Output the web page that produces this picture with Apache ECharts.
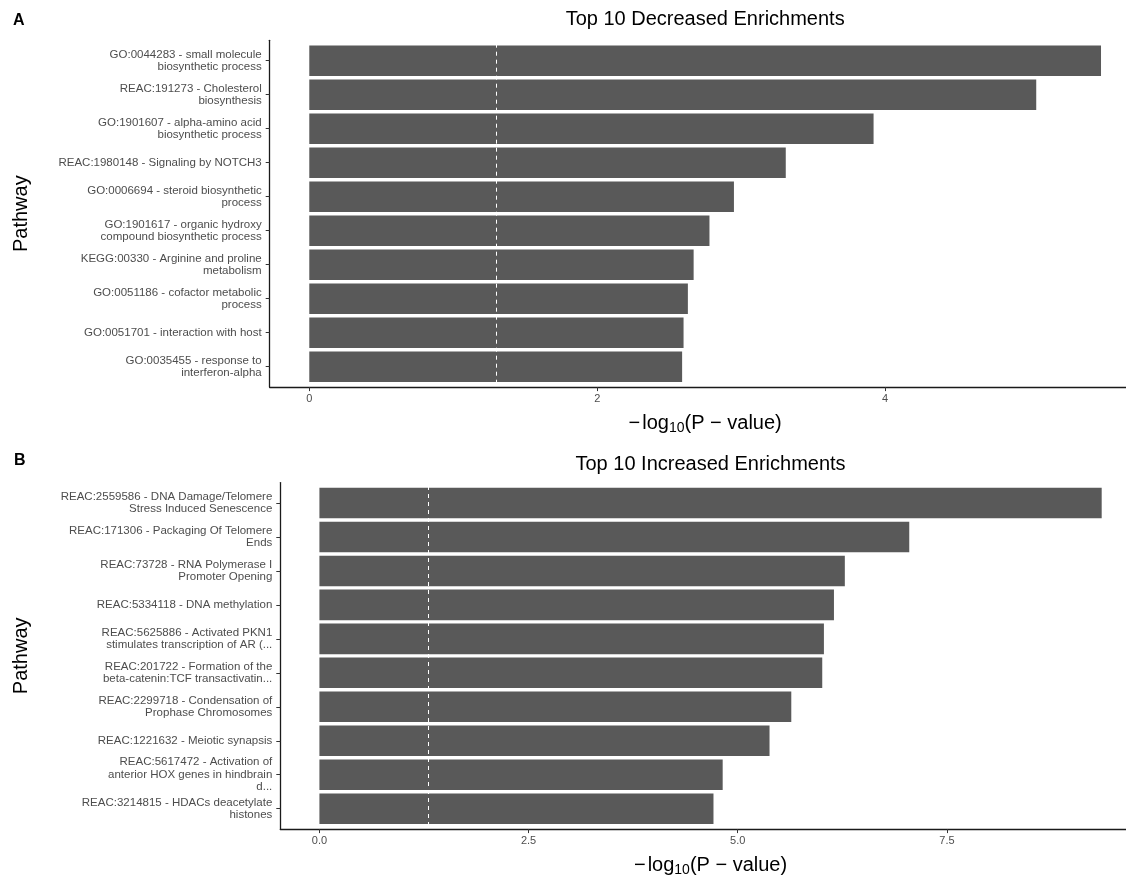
<!DOCTYPE html>
<html>
<head>
<meta charset="utf-8">
<title>Top 10 enrichments</title>
<script src="https://cdn.jsdelivr.net/npm/echarts@6/dist/echarts.min.js"></script>
<style>
  html, body { margin: 0; padding: 0; background: #ffffff; }
  #chart { width: 1126px; height: 875px; }
</style>
</head>
<body>
<div id="chart"></div>
<script>
// ---- data -------------------------------------------------------------
const decLabels = [
  'GO:0044283 - small molecule\nbiosynthetic process',
  'REAC:191273 - Cholesterol\nbiosynthesis',
  'GO:1901607 - alpha-amino acid\nbiosynthetic process',
  'REAC:1980148 - Signaling by NOTCH3',
  'GO:0006694 - steroid biosynthetic\nprocess',
  'GO:1901617 - organic hydroxy\ncompound biosynthetic process',
  'KEGG:00330 - Arginine and proline\nmetabolism',
  'GO:0051186 - cofactor metabolic\nprocess',
  'GO:0051701 - interaction with host',
  'GO:0035455 - response to\ninterferon-alpha'
];
const decValues = [5.50, 5.05, 3.92, 3.31, 2.95, 2.78, 2.67, 2.63, 2.60, 2.59];
const decTicks = [0, 2, 4];

const incLabels = [
  'REAC:2559586 - DNA Damage/Telomere\nStress Induced Senescence',
  'REAC:171306 - Packaging Of Telomere\nEnds',
  'REAC:73728 - RNA Polymerase I\nPromoter Opening',
  'REAC:5334118 - DNA methylation',
  'REAC:5625886 - Activated PKN1\nstimulates transcription of AR (...',
  'REAC:201722 - Formation of the\nbeta-catenin:TCF transactivatin...',
  'REAC:2299718 - Condensation of\nProphase Chromosomes',
  'REAC:1221632 - Meiotic synapsis',
  'REAC:5617472 - Activation of\nanterior HOX genes in hindbrain\nd...',
  'REAC:3214815 - HDACs deacetylate\nhistones'
];
const incValues = [9.35, 7.05, 6.28, 6.15, 6.03, 6.01, 5.64, 5.38, 4.82, 4.71];
const incTicks = [0, 2.5, 5, 7.5];

// significance threshold: -log10(0.05)
const pCutoff = -Math.log10(0.05);

// ---- styling ----------------------------------------------------------
const FONT = '"Liberation Sans", Arial, Helvetica, sans-serif';
const BAR = '#595959';
const LABEL = '#4d4d4d';
const AXIS = '#1a1a1a';

const panels = [
  {
    letter: 'A', letterLeft: 13, letterTop: 13,
    title: 'Top 10 Decreased Enrichments', titleGap: 11,
    labels: decLabels, values: decValues, ticks: decTicks,
    fmt: v => String(v),
    left: 269.7, width: 870.9, nameGap: 238,
    frameTop: 40.3, frameH: 346.8, dataTop: 43.7, dataH: 340
  },
  {
    letter: 'B', letterLeft: 14, letterTop: 453,
    title: 'Top 10 Increased Enrichments', titleGap: 8,
    labels: incLabels, values: incValues, ticks: incTicks,
    fmt: v => v.toFixed(1),
    left: 280.3, width: 860.5, nameGap: 248.5,
    frameTop: 482.6, frameH: 346.5, dataTop: 486, dataH: 339.7
  }
];

const xName = '{m|\u2212}{t|log}{s|10}{t|(P \u2212 value)}';
const xNameStyle = {
  color: '#000', fontFamily: FONT, fontSize: 20, lineHeight: 24,
  rich: {
    m: { fontSize: 20, lineHeight: 24, fontFamily: FONT, color: '#000', padding: [0, 2, 0, 0] },
    t: { fontSize: 20, lineHeight: 24, fontFamily: FONT, color: '#000' },
    s: { fontSize: 14, lineHeight: 14, fontFamily: FONT, color: '#000', verticalAlign: 'bottom' }
  }
};

const option = {
  animation: false,
  backgroundColor: '#ffffff',
  title: [],
  grid: [],
  xAxis: [],
  yAxis: [],
  series: []
};

panels.forEach((p, i) => {
  const dataGrid = i * 2;
  const frameGrid = i * 2 + 1;
  const vmax = Math.max(...p.values);
  const xmin = -0.05 * vmax;
  const xmax = 1.05 * vmax;
  const frameBottom = p.frameTop + p.frameH;
  const dataBottom = p.dataTop + p.dataH;

  option.title.push({
    text: p.letter, left: p.letterLeft, top: p.letterTop, padding: 0,
    textStyle: { fontFamily: FONT, fontSize: 16, fontWeight: 'bold', color: '#000', lineHeight: 16 }
  });

  // bars live in the inner grid, axis lines in the outer frame grid;
  // the panel runs past the right edge of the canvas
  option.grid.push({ left: p.left, width: p.width, top: p.dataTop, height: p.dataH, outerBoundsMode: 'none' });
  option.grid.push({ left: p.left, width: p.width, top: p.frameTop, height: p.frameH, outerBoundsMode: 'none' });

  // value axis (ticks + labels), dropped to the frame edge
  option.xAxis.push({
    gridIndex: dataGrid, type: 'value', min: xmin, max: xmax,
    offset: frameBottom - dataBottom,
    axisLine: { show: false, onZero: false },
    splitLine: { show: false },
    axisTick: { show: true, length: 4, customValues: p.ticks, lineStyle: { color: '#333', width: 1 } },
    axisLabel: { customValues: p.ticks, formatter: p.fmt, color: LABEL, fontFamily: FONT, fontSize: 11, margin: 6 },
    name: xName, nameLocation: 'middle', nameGap: 24, nameTextStyle: xNameStyle
  });
  // frame: bottom axis line
  option.xAxis.push({
    gridIndex: frameGrid, type: 'value', min: 0, max: 1,
    axisLine: { show: true, onZero: false, lineStyle: { color: AXIS, width: 1.3 } },
    axisTick: { show: false }, axisLabel: { show: false }, splitLine: { show: false }
  });
  // frame: top axis carrying the panel title
  option.xAxis.push({
    gridIndex: frameGrid, type: 'value', min: 0, max: 1, position: 'top',
    axisLine: { show: false }, axisTick: { show: false }, axisLabel: { show: false }, splitLine: { show: false },
    name: p.title, nameLocation: 'middle', nameGap: p.titleGap,
    nameTextStyle: { color: '#000', fontFamily: FONT, fontSize: 20, lineHeight: 20 }
  });

  option.yAxis.push({
    gridIndex: dataGrid, type: 'category', data: p.labels, inverse: true,
    axisLine: { show: false, onZero: false },
    axisTick: { show: true, alignWithLabel: true, length: 4, lineStyle: { color: '#333', width: 1 } },
    axisLabel: { interval: 0, color: LABEL, fontFamily: FONT, fontSize: 11.5, lineHeight: 12.5, margin: 8 },
    splitLine: { show: false },
    name: 'Pathway', nameLocation: 'middle', nameGap: p.nameGap,
    nameTextStyle: { color: '#000', fontFamily: FONT, fontSize: 20, lineHeight: 20 }
  });
  option.yAxis.push({
    gridIndex: frameGrid, type: 'value', min: 0, max: 1,
    axisLine: { show: true, onZero: false, lineStyle: { color: AXIS, width: 1.3 } },
    axisTick: { show: false }, axisLabel: { show: false }, splitLine: { show: false }
  });

  option.series.push({
    type: 'bar',
    xAxisIndex: i * 3,
    yAxisIndex: i * 2,
    data: p.values,
    barCategoryGap: '10%',
    itemStyle: { color: BAR },
    silent: true,
    markLine: {
      silent: true,
      symbol: 'none',
      label: { show: false },
      lineStyle: { color: '#ffffff', type: [4, 4], width: 1 },
      data: [{ xAxis: pCutoff }]
    }
  });
});

const chart = echarts.init(document.getElementById('chart'), null, { renderer: 'canvas' });
chart.setOption(option);
</script>
</body>
</html>
